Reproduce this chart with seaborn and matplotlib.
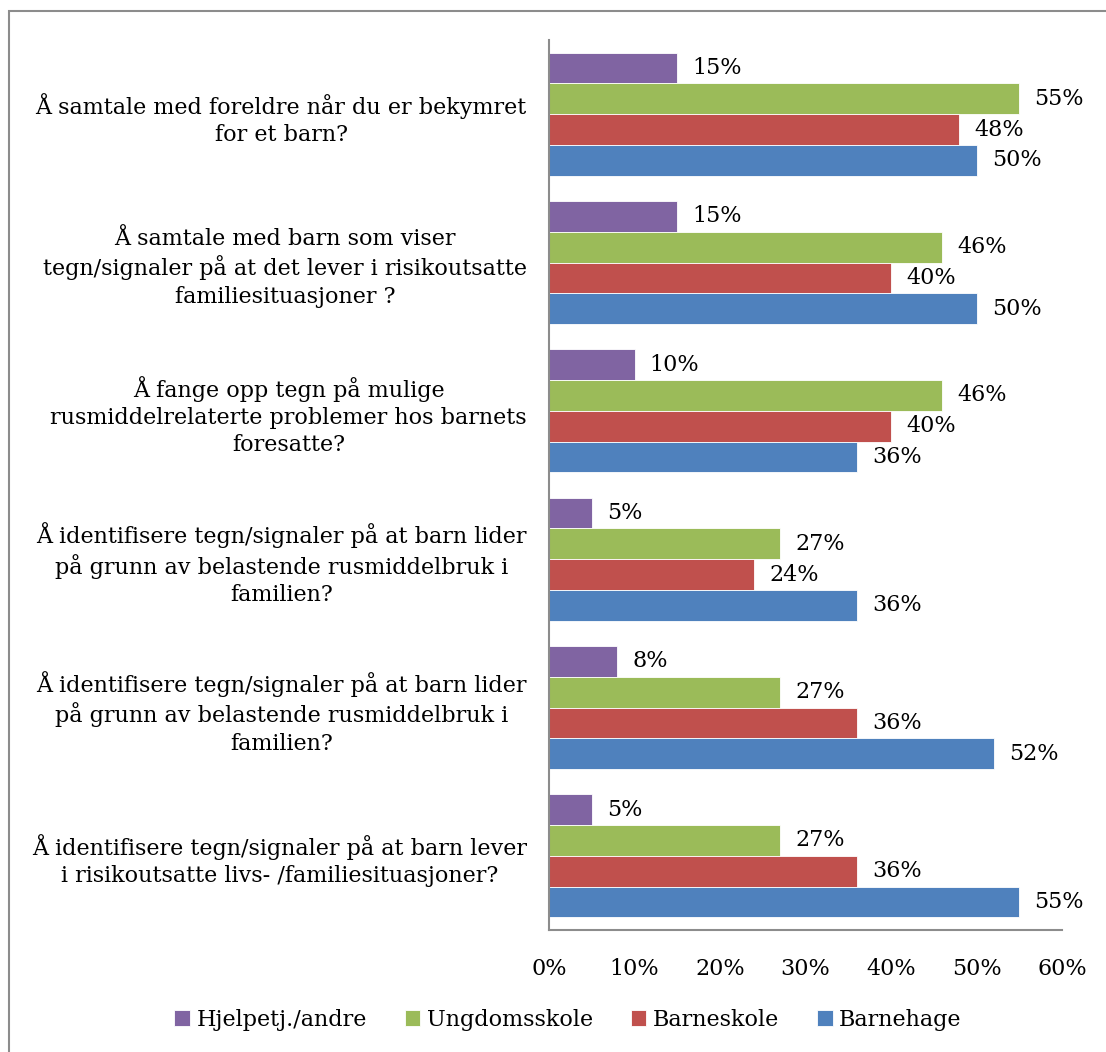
import matplotlib
matplotlib.use("Agg")
import matplotlib.pyplot as plt
from matplotlib.patches import Rectangle
import seaborn as sns
import pandas as pd

# Survey questions (two of them share the same wording)
questions = [
    "Å samtale med foreldre når du er bekymret\nfor et barn?",
    "Å samtale med barn som viser\ntegn/signaler på at det lever i risikoutsatte\nfamiliesituasjoner ?",
    "Å fange opp tegn på mulige\nrusmiddelrelaterte problemer hos barnets\nforesatte?",
    "Å identifisere tegn/signaler på at barn lider\npå grunn av belastende rusmiddelbruk i\nfamilien?",
    "Å identifisere tegn/signaler på at barn lider\npå grunn av belastende rusmiddelbruk i\nfamilien?",
    "Å identifisere tegn/signaler på at barn lever\ni risikoutsatte livs- /familiesituasjoner?",
]

groups = ["Hjelpetj./andre", "Ungdomsskole", "Barneskole", "Barnehage"]

hjelpetj = [15, 15, 10, 5, 8, 5]
ungdomsskole = [55, 46, 46, 27, 27, 27]
barneskole = [48, 40, 40, 24, 36, 36]
barnehage = [50, 50, 36, 36, 52, 55]

x_ticks = [0, 10, 20, 30, 40, 50, 60]

colors = ["#8064A2", "#9BBB59", "#C0504D", "#4F81BD"]

rows = []
for g, vals in zip(groups, [hjelpetj, ungdomsskole, barneskole, barnehage]):
    for i, v in enumerate(vals):
        rows.append({"spm": i, "gruppe": g, "prosent": v})
df = pd.DataFrame(rows)

sns.set_theme(style="white")
plt.rcParams["font.family"] = ["DejaVu Serif"]
plt.rcParams["text.color"] = "black"
plt.rcParams["xtick.color"] = "black"
plt.rcParams["ytick.color"] = "black"

FS = 16

fig = plt.figure(figsize=(11.06, 10.52), dpi=100)
ax = fig.add_axes([549 / 1106, 1 - 930 / 1052, (1062 - 549) / 1106, (930 - 40) / 1052])

sns.barplot(data=df, y="spm", x="prosent", hue="gruppe", hue_order=groups,
            palette=colors, orient="h", width=0.83, gap=0, ax=ax,
            edgecolor="white", linewidth=0.6, saturation=1, legend=True)

for cont in ax.containers:
    ax.bar_label(cont, fmt="%d%%", padding=11, fontsize=FS, color="black")

ax.set_xlim(0, 60)
ax.set_xticks(x_ticks)
ax.set_xticklabels([f"{t}%" for t in x_ticks], fontsize=FS)
ax.set_yticks(range(len(questions)))
ax.set_yticklabels(questions, fontsize=FS, ha="right", multialignment="center",
                   linespacing=1.3)
ax.tick_params(axis="y", length=0, pad=16, labelcolor="black")
ax.tick_params(axis="x", length=0, pad=20, labelcolor="black")
ax.set_xlabel("")
ax.set_ylabel("")

for side in ["top", "right"]:
    ax.spines[side].set_visible(False)
for side in ["left", "bottom"]:
    ax.spines[side].set_color("#8c8c8c")
    ax.spines[side].set_linewidth(1.5)

handles, labels = ax.get_legend_handles_labels()
ax.legend_.remove()
fig.legend(handles, labels, loc="center", ncol=4,
           bbox_to_anchor=(568 / 1106, 1 - 1020 / 1052), frameon=False,
           fontsize=FS, handlelength=0.7, handleheight=0.7,
           handletextpad=0.3, columnspacing=1.7)

# outer frame
fig.patches.append(Rectangle((9 / 1106, -0.1), 1.2, 1 - 11 / 1052 + 0.1,
                             transform=fig.transFigure, fill=False,
                             edgecolor="#8c8c8c", linewidth=1.5))

fig.savefig("out.png", dpi=100)
